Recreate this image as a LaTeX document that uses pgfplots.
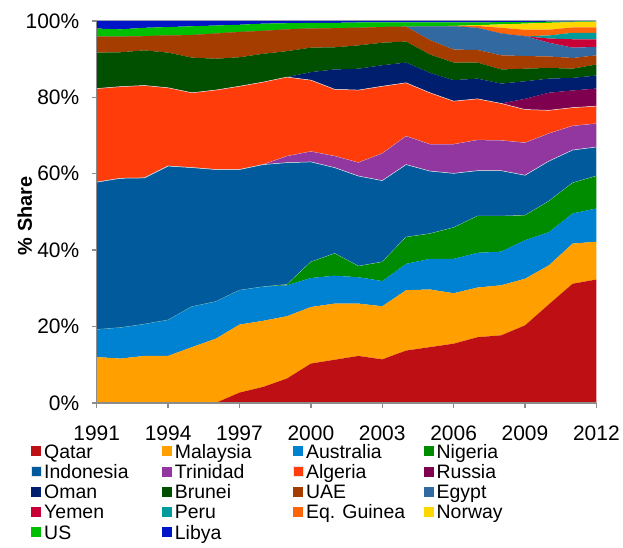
\documentclass[border=0pt]{standalone}
\usepackage{pgfplots}
\pgfplotsset{compat=1.18}
\usepackage{pgfplotstable}
\usepackage{fontspec}
\setmainfont{Liberation Sans}

\definecolor{cQatar}{RGB}{190,16,20}
\definecolor{cMalaysia}{RGB}{255,160,0}
\definecolor{cAustralia}{RGB}{0,130,210}
\definecolor{cNigeria}{RGB}{0,140,0}
\definecolor{cIndonesia}{RGB}{0,90,155}
\definecolor{cTrinidad}{RGB}{147,55,160}
\definecolor{cAlgeria}{RGB}{255,60,10}
\definecolor{cRussia}{RGB}{128,0,80}
\definecolor{cOman}{RGB}{0,30,110}
\definecolor{cBrunei}{RGB}{0,80,0}
\definecolor{cUAE}{RGB}{165,60,0}
\definecolor{cEgypt}{RGB}{50,105,160}
\definecolor{cYemen}{RGB}{200,0,55}
\definecolor{cPeru}{RGB}{0,155,155}
\definecolor{cEqGuinea}{RGB}{255,100,10}
\definecolor{cNorway}{RGB}{255,215,0}
\definecolor{cUS}{RGB}{0,190,0}
\definecolor{cLibya}{RGB}{0,20,200}

% LNG export share by country, % of total
\pgfplotstableread{
year Qatar Malaysia Australia Nigeria Indonesia Trinidad Algeria Russia Oman Brunei UAE Egypt Yemen Peru EqGuinea Norway US Libya
1991  0.0 12.0  7.2 0.0 38.6 0.0 24.5 0.0 0.0 9.4 4.2 0.0 0.0 0.0 0.0 0.0 2.1  2.0
1992  0.0 11.6  8.1 0.0 39.1 0.0 24.0 0.0 0.0 9.0 4.1 0.0 0.0 0.0 0.0 0.0 1.9  2.2
1993  0.0 12.3  8.3 0.0 38.3 0.0 24.2 0.0 0.0 9.2 3.7 0.0 0.0 0.0 0.0 0.0 2.2  1.8
1994  0.0 12.3  9.4 0.0 40.3 0.0 20.5 0.0 0.0 9.2 4.5 0.0 0.0 0.0 0.0 0.0 2.2  1.6
1995  0.0 14.6 10.6 0.0 36.4 0.0 19.6 0.0 0.0 9.2 5.9 0.0 0.0 0.0 0.0 0.0 2.3  1.4
1996  0.0 16.8  9.7 0.0 34.6 0.0 20.8 0.0 0.0 8.2 6.6 0.0 0.0 0.0 0.0 0.0 2.1  1.2
1997  2.7 17.8  9.0 0.0 31.6 0.0 21.8 0.0 0.0 7.6 6.6 0.0 0.0 0.0 0.0 0.0 1.9  1.0
1998  4.2 17.3  8.9 0.0 32.0 0.0 21.6 0.0 0.0 7.4 6.0 0.0 0.0 0.0 0.0 0.0 1.9  0.7
1999  6.4 16.3  8.1 0.2 31.9 1.7 20.7 0.0 0.0 6.8 5.7 0.0 0.0 0.0 0.0 0.0 1.6  0.6
2000 10.3 14.8  7.6 4.2 26.2 2.7 18.7 0.0 2.1 6.4 5.0 0.0 0.0 0.0 0.0 0.0 1.5  0.5
2001 11.3 14.7  7.3 5.8 22.5 3.0 17.5 0.0 5.2 5.8 5.0 0.0 0.0 0.0 0.0 0.0 1.4  0.5
2002 12.3 13.7  6.9 2.9 23.6 3.5 19.0 0.0 5.6 6.1 4.6 0.0 0.0 0.0 0.0 0.0 1.4  0.4
2003 11.4 13.9  6.6 5.0 21.3 7.1 17.6 0.0 5.5 5.9 4.1 0.0 0.0 0.0 0.0 0.0 1.2  0.4
2004 13.7 15.8  6.9 7.0 19.0 7.4 14.0 0.0 5.3 5.5 3.9 0.0 0.0 0.0 0.0 0.0 1.1  0.4
2005 14.6 15.1  8.0 6.6 16.4 7.0 13.5 0.0 5.2 4.8 3.8 3.6 0.0 0.0 0.0 0.0 1.0  0.4
2006 15.5 13.2  9.0 8.2 14.2 7.6 11.3 0.0 5.5 4.6 3.4 6.1 0.0 0.0 0.1 0.0 0.9  0.4
2007 17.2 13.0  9.1 9.6 11.9 8.0 10.8 0.0 5.3 4.2 3.3 5.8 0.0 0.0 0.5 0.2 0.7  0.4
2008 17.7 13.1  8.8 9.3 11.9 7.9  9.7 0.0 5.2 3.7 3.7 5.7 0.0 0.0 1.5 0.9 0.6  0.3
2009 20.3 12.2 10.1 6.5 10.5 8.5  8.7 2.8 4.6 3.3 3.3 5.2 0.0 0.0 1.7 1.6 0.4  0.3
2010 25.8 10.2  8.7 8.1 10.5 7.2  6.1 4.6 3.7 2.8 3.0 3.6 1.1 0.8 1.5 1.8 0.3  0.2
2011 31.2 10.5  7.9 8.0  8.6 6.3  4.8 4.5 3.3 2.4 2.8 2.7 2.2 1.7 1.4 1.4 0.15 0.15
2012 32.3  9.9  8.7 8.5  7.6 6.1  4.6 4.6 3.4 2.9 2.4 2.2 2.0 1.7 1.4 1.5 0.1  0.1
}\lngdata

\newcommand{\lgd}[1]{\makebox[121pt][l]{\hspace{3pt}#1}}

\begin{document}
\begin{tikzpicture}
\begin{axis}[
  name=ax,
  width=501pt, height=383pt, scale only axis,
  xmin=1991, xmax=2012, ymin=0, ymax=100,
  stack plots=y,
  area style,
  axis x line*=bottom, axis y line*=left,
  axis line style={-, draw=black!45, line width=1.3pt},
  tick align=outside,
  major tick length=5pt, minor tick length=5pt,
  tick style={draw=black!45, line width=1.3pt},
  xtick={1991,1994,...,2012},
  minor x tick num=2,
  ytick={0,20,...,100},
  /pgf/number format/assume math mode=true,
  yticklabel={\pgfmathprintnumber{\tick}\%},
  xticklabel style={/pgf/number format/1000 sep={}, yshift=-14pt},
  yticklabel style={xshift=-9pt},
  ticklabel style={font=\fontsize{21}{24}\selectfont},
  ylabel={\% Share},
  ylabel style={font=\fontsize{20}{24}\selectfont\bfseries,
    at={(axis description cs:-0.144,0.49)}, anchor=center},
  legend columns=4,
  legend cell align=left,
  legend image code/.code={\fill[#1] (0pt,-2.5pt) rectangle (10pt,7.5pt);},
  legend style={at={(axis description cs:-0.132,-0.107)}, anchor=north west,
    draw=none, fill=none, inner sep=0pt, outer sep=0pt,
    column sep=0pt, row sep=0pt,
    nodes={inner sep=0pt, text height=14.5pt, text depth=5.8pt,
      font=\fontsize{19.5}{22}\selectfont}},
]
\addplot[fill=cQatar, draw=none] table[x=year, y=Qatar]{\lngdata} \closedcycle;
\addplot[fill=cMalaysia, draw=none] table[x=year, y=Malaysia]{\lngdata} \closedcycle;
\addplot[fill=cAustralia, draw=none] table[x=year, y=Australia]{\lngdata} \closedcycle;
\addplot[fill=cNigeria, draw=none] table[x=year, y=Nigeria]{\lngdata} \closedcycle;
\addplot[fill=cIndonesia, draw=white!80!gray, line width=0.5pt] table[x=year, y=Indonesia]{\lngdata} \closedcycle;
\addplot[fill=cTrinidad, draw=none] table[x=year, y=Trinidad]{\lngdata} \closedcycle;
\addplot[fill=cAlgeria, draw=white!80!gray, line width=0.5pt] table[x=year, y=Algeria]{\lngdata} \closedcycle;
\addplot[fill=cRussia, draw=none] table[x=year, y=Russia]{\lngdata} \closedcycle;
\addplot[fill=cOman, draw=none] table[x=year, y=Oman]{\lngdata} \closedcycle;
\addplot[fill=cBrunei, draw=none] table[x=year, y=Brunei]{\lngdata} \closedcycle;
\addplot[fill=cUAE, draw=none] table[x=year, y=UAE]{\lngdata} \closedcycle;
\addplot[fill=cEgypt, draw=none] table[x=year, y=Egypt]{\lngdata} \closedcycle;
\addplot[fill=cYemen, draw=none] table[x=year, y=Yemen]{\lngdata} \closedcycle;
\addplot[fill=cPeru, draw=none] table[x=year, y=Peru]{\lngdata} \closedcycle;
\addplot[fill=cEqGuinea, draw=none] table[x=year, y=EqGuinea]{\lngdata} \closedcycle;
\addplot[fill=cNorway, draw=none] table[x=year, y=Norway]{\lngdata} \closedcycle;
\addplot[fill=cUS, draw=none] table[x=year, y=US]{\lngdata} \closedcycle;
\addplot[fill=cLibya, draw=none] table[x=year, y=Libya]{\lngdata} \closedcycle;
\legend{\lgd{Qatar}, \lgd{Malaysia}, \lgd{Australia}, \lgd{Nigeria},
  \lgd{Indonesia}, \lgd{Trinidad}, \lgd{Algeria}, \lgd{Russia},
  \lgd{Oman}, \lgd{Brunei}, \lgd{UAE}, \lgd{Egypt},
  \lgd{Yemen}, \lgd{Peru}, \lgd{Eq. Guinea}, \lgd{Norway},
  \lgd{US}, \lgd{Libya}}
\draw[black!30, line width=1pt] (rel axis cs:0,1) -- (rel axis cs:1,1);
\end{axis}
\path ([xshift=-97pt, yshift=-145pt]ax.south west) rectangle ([xshift=25pt, yshift=21pt]ax.north east);
\end{tikzpicture}
\end{document}
